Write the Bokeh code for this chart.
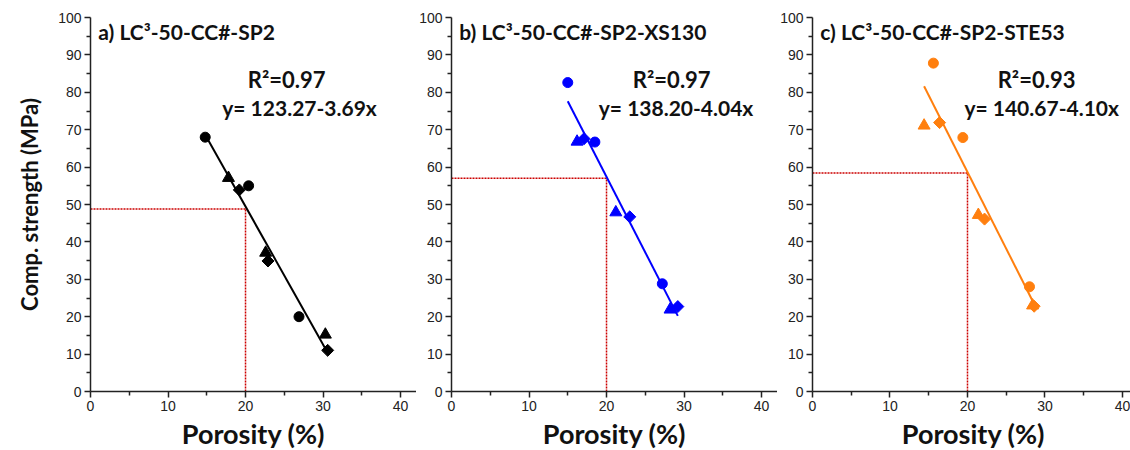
import numpy as np
from bokeh.plotting import figure
from bokeh.layouts import row
from bokeh.models import Range1d, FixedTicker, Label
from bokeh.embed import file_html
from bokeh.resources import INLINE

# ---------------- data ----------------
titles = ["a) LC\u00b3-50-CC#-SP2", "b) LC\u00b3-50-CC#-SP2-XS130", "c) LC\u00b3-50-CC#-SP2-STE53"]
colors = ["#000000", "#0000FF", "#FF7F0E"]
r2_labels = ["R\u00b2=0.97", "R\u00b2=0.97", "R\u00b2=0.93"]
eq_labels = ["y= 123.27-3.69x", "y= 138.20-4.04x", "y= 140.67-4.10x"]
intercepts = [123.27, 138.20, 140.67]
slopes = [-3.69, -4.04, -4.10]
ref_porosity = [20.0, 20.0, 20.0]
strength_at_ref = [48.8, 57.0, 58.4]

# panel a
a_circle_x = [14.8, 20.4, 26.9]
a_circle_y = [68.0, 55.0, 20.0]
a_tri_x = [17.8, 22.6, 30.3]
a_tri_y = [57.1, 37.1, 15.2]
a_dia_x = [19.2, 22.9, 30.6]
a_dia_y = [53.9, 34.9, 11.0]
# panel b
b_circle_x = [15.0, 18.5, 27.2]
b_circle_y = [82.6, 66.7, 28.8]
b_tri_x = [16.2, 21.2, 28.2]
b_tri_y = [66.8, 47.9, 21.9]
b_dia_x = [17.1, 23.0, 29.2]
b_dia_y = [67.6, 46.7, 22.7]
# panel c
c_circle_x = [15.6, 19.4, 28.0]
c_circle_y = [87.8, 67.9, 28.0]
c_tri_x = [14.4, 21.4, 28.4]
c_tri_y = [71.1, 47.2, 23.0]
c_dia_x = [16.4, 22.2, 28.6]
c_dia_y = [71.9, 46.1, 22.8]

x_ticks = [0, 10, 20, 30, 40]
x_minor = [5, 15, 25, 35]
y_ticks = [0, 10, 20, 30, 40, 50, 60, 70, 80, 90, 100]
y_minor = [5, 15, 25, 35, 45, 55, 65, 75, 85, 95]

panels = [
    (a_circle_x, a_circle_y, a_tri_x, a_tri_y, a_dia_x, a_dia_y),
    (b_circle_x, b_circle_y, b_tri_x, b_tri_y, b_dia_x, b_dia_y),
    (c_circle_x, c_circle_y, c_tri_x, c_tri_y, c_dia_x, c_dia_y),
]

# layout parameters
frame_w = [326, 326, 322]
x_end = [42.06, 42.06, 41.55]
left_border = [90, 32, 34]
r2_pos = [(20.3, 83.4), (23.4, 83.4), (23.9, 83.4)]
eq_pos = [(17.0, 76.0), (19.0, 76.0), (19.6, 76.0)]

BOLD_FONT = "Lato"
TICK_FONT = "Liberation Sans"
AXIS_COLOR = "#222222"

figs = []
for i in range(3):
    cx, cy, tx, ty, dx, dy = panels[i]
    p = figure(frame_width=frame_w[i], frame_height=374,
               x_range=Range1d(0, x_end[i]), y_range=Range1d(0, 100),
               output_backend="svg", toolbar_location=None,
               min_border_left=left_border[i], min_border_right=0,
               min_border_top=17, min_border_bottom=59)
    p.outline_line_color = None
    p.xgrid.visible = False
    p.ygrid.visible = False
    p.background_fill_color = "white"
    p.border_fill_color = "white"

    for ax, maj, mnr in ((p.xaxis[0], x_ticks, x_minor), (p.yaxis[0], y_ticks, y_minor)):
        ax.ticker = FixedTicker(ticks=maj, minor_ticks=mnr)
        ax.axis_line_color = AXIS_COLOR
        ax.axis_line_width = 1.5
        ax.major_tick_line_color = AXIS_COLOR
        ax.minor_tick_line_color = AXIS_COLOR
        ax.major_tick_line_width = 1.5
        ax.minor_tick_line_width = 1.5
        ax.major_tick_out = 6
        ax.major_tick_in = 0
        ax.minor_tick_out = 4
        ax.minor_tick_in = 0
        ax.major_label_text_font = TICK_FONT
        ax.major_label_text_font_size = "14px"
        ax.major_label_text_color = "#222222"
        ax.major_label_standoff = 3

    p.xaxis.axis_label = "Porosity (%)"
    p.xaxis.axis_label_text_font = BOLD_FONT
    p.xaxis.axis_label_text_font_style = "bold"
    p.xaxis.axis_label_text_font_size = "27px"
    p.xaxis.axis_label_text_color = "#111111"
    p.xaxis.axis_label_standoff = 3
    if i == 0:
        p.yaxis.axis_label = "Comp. strength (MPa)"
        p.yaxis.axis_label_text_font = BOLD_FONT
        p.yaxis.axis_label_text_font_style = "bold"
        p.yaxis.axis_label_text_font_size = "22px"
        p.yaxis.axis_label_text_color = "#111111"
        p.yaxis.axis_label_standoff = 12

    col = colors[i]
    # red dotted guide lines
    p.line([0, ref_porosity[i]], [strength_at_ref[i], strength_at_ref[i]],
           line_color="#CC0000", line_width=1.5, line_dash="2 1")
    p.line([ref_porosity[i], ref_porosity[i]], [0, strength_at_ref[i]],
           line_color="#CC0000", line_width=1.5, line_dash="2 1")

    # regression line over data span
    all_x = cx + tx + dx
    xs = np.array([min(all_x), max(all_x)])
    ys = intercepts[i] + slopes[i] * xs
    p.line(xs, ys, line_color=col, line_width=2)

    p.scatter(cx, cy, marker="circle", size=10, fill_color=col, line_color=col)
    p.scatter(tx, ty, marker="triangle", size=12, fill_color=col, line_color=col)
    p.scatter(dx, dy, marker="square", size=8.5, angle=np.pi / 4, fill_color=col, line_color=col)

    p.add_layout(Label(x=1.0, y=96.2, text=titles[i], text_font=BOLD_FONT,
                       text_font_style="bold", text_font_size="21px",
                       text_color="#111111", text_baseline="middle", text_align="left"))
    p.add_layout(Label(x=r2_pos[i][0], y=r2_pos[i][1], text=r2_labels[i], text_font=BOLD_FONT,
                       text_font_style="bold", text_font_size="22px",
                       text_color="#111111", text_baseline="middle", text_align="left"))
    p.add_layout(Label(x=eq_pos[i][0], y=eq_pos[i][1], text=eq_labels[i], text_font=BOLD_FONT,
                       text_font_style="bold", text_font_size="21px",
                       text_color="#111111", text_baseline="middle", text_align="left"))
    figs.append(p)

layout = row(*figs, spacing=0)
open("out.html", "w").write(file_html(layout, INLINE))
